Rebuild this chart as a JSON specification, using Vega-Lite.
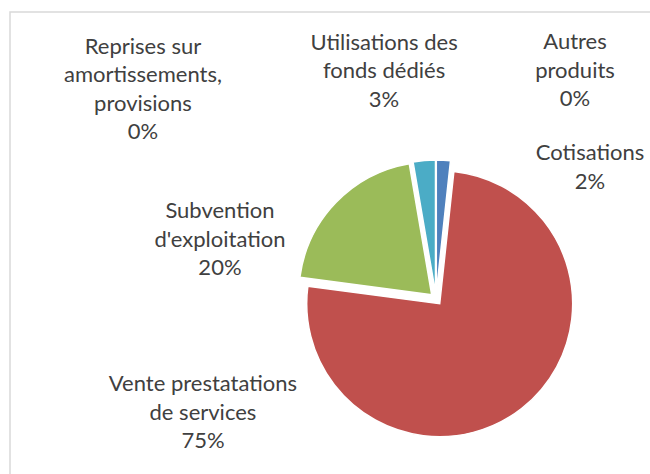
{
  "$schema": "https://vega.github.io/schema/vega-lite/v6.json",
  "autosize": "none",
  "width": 852,
  "height": 574,
  "padding": {"left": 10, "top": 12, "right": 0, "bottom": 0},
  "background": "white",
  "view": {"stroke": "#d9d9d9", "strokeWidth": 1.5},
  "config": {"view": {"stroke": "#d9d9d9", "strokeWidth": 1.5}},
  "data": {"values": [
    {"ordre": 1, "poste": "Cotisations", "pct": 1.7, "label": ["Cotisations", "2%"]},
    {"ordre": 2, "poste": "Vente prestatations de services", "pct": 75.4, "label": ["Vente prestatations", "de services", "75%"]},
    {"ordre": 3, "poste": "Subvention d'exploitation", "pct": 20.2, "label": ["Subvention", "d'exploitation", "20%"]},
    {"ordre": 4, "poste": "Reprises sur amortissements, provisions", "pct": 0, "label": ["Reprises sur", "amortissements,", "provisions", "0%"]},
    {"ordre": 5, "poste": "Utilisations des fonds dédiés", "pct": 2.7, "label": ["Utilisations des", "fonds dédiés", "3%"]},
    {"ordre": 6, "poste": "Autres produits", "pct": 0, "label": ["Autres", "produits", "0%"]}
  ]},
  "transform": [
    {"stack": "pct", "groupby": [], "sort": [{"field": "ordre", "order": "ascending"}], "as": ["v0", "v1"]},
    {"calculate": "(datum.v0 + datum.v1) / 2", "as": "vmid"}
  ],
  "encoding": {
    "color": {
      "field": "poste", "type": "nominal", "legend": null,
      "scale": {
        "domain": ["Cotisations", "Vente prestatations de services", "Subvention d'exploitation", "Reprises sur amortissements, provisions", "Utilisations des fonds dédiés", "Autres produits"],
        "range": ["#4F81BD", "#C0504D", "#9BBB59", "#8064A2", "#4BACC6", "#F79646"]
      }
    }
  },
  "layer": [
    {
      "transform": [{"filter": "datum.ordre == 1"}],
      "mark": {"type": "arc", "outerRadius": 133, "stroke": "white", "strokeWidth": 1.5, "xOffset": 0.3, "yOffset": -6},
      "encoding": {
        "theta": {"field": "v0", "type": "quantitative", "scale": {"domain": [0, 100]}},
        "theta2": {"field": "v1"}
      }
    },
    {
      "transform": [{"filter": "datum.ordre == 2"}],
      "mark": {"type": "arc", "outerRadius": 133, "stroke": "white", "strokeWidth": 1.5, "xOffset": 3.7, "yOffset": 4.7},
      "encoding": {
        "theta": {"field": "v0", "type": "quantitative", "scale": {"domain": [0, 100]}},
        "theta2": {"field": "v1"}
      }
    },
    {
      "transform": [{"filter": "datum.ordre == 3"}],
      "mark": {"type": "arc", "outerRadius": 133, "stroke": "white", "strokeWidth": 1.5, "xOffset": -4.3, "yOffset": -4.2},
      "encoding": {
        "theta": {"field": "v0", "type": "quantitative", "scale": {"domain": [0, 100]}},
        "theta2": {"field": "v1"}
      }
    },
    {
      "transform": [{"filter": "datum.ordre == 5"}],
      "mark": {"type": "arc", "outerRadius": 133, "stroke": "white", "strokeWidth": 1.5, "xOffset": -0.5, "yOffset": -6},
      "encoding": {
        "theta": {"field": "v0", "type": "quantitative", "scale": {"domain": [0, 100]}},
        "theta2": {"field": "v1"}
      }
    },
    {
      "transform": [{"filter": "datum.ordre == 1"}],
      "mark": {"type": "text", "radius": 160, "font": "Lato", "fontSize": 22, "lineHeight": 28.5, "align": "center", "baseline": "middle", "dx": 145.5, "dy": 13.8},
      "encoding": {"theta": {"field": "vmid", "type": "quantitative", "scale": {"domain": [0, 100]}}, "text": {"field": "label"}, "color": {"value": "#404040"}}
    },
    {
      "transform": [{"filter": "datum.ordre == 2"}],
      "mark": {"type": "text", "radius": 160, "font": "Lato", "fontSize": 22, "lineHeight": 28.5, "align": "center", "baseline": "middle", "dx": -331.9, "dy": -40.8},
      "encoding": {"theta": {"field": "vmid", "type": "quantitative", "scale": {"domain": [0, 100]}}, "text": {"field": "label"}, "color": {"value": "#404040"}}
    },
    {
      "transform": [{"filter": "datum.ordre == 3"}],
      "mark": {"type": "text", "radius": 160, "font": "Lato", "fontSize": 22, "lineHeight": 28.5, "align": "center", "baseline": "middle", "dx": -100.8, "dy": 23},
      "encoding": {"theta": {"field": "vmid", "type": "quantitative", "scale": {"domain": [0, 100]}}, "text": {"field": "label"}, "color": {"value": "#404040"}}
    },
    {
      "transform": [{"filter": "datum.ordre == 4"}],
      "mark": {"type": "text", "radius": 160, "font": "Lato", "fontSize": 22, "lineHeight": 28.5, "align": "center", "baseline": "middle", "dx": -266, "dy": -94.3},
      "encoding": {"theta": {"field": "vmid", "type": "quantitative", "scale": {"domain": [0, 100]}}, "text": {"field": "label"}, "color": {"value": "#404040"}}
    },
    {
      "transform": [{"filter": "datum.ordre == 5"}],
      "mark": {"type": "text", "radius": 160, "font": "Lato", "fontSize": 22, "lineHeight": 28.5, "align": "center", "baseline": "middle", "dx": -38.4, "dy": -96.6},
      "encoding": {"theta": {"field": "vmid", "type": "quantitative", "scale": {"domain": [0, 100]}}, "text": {"field": "label"}, "color": {"value": "#404040"}}
    },
    {
      "transform": [{"filter": "datum.ordre == 6"}],
      "mark": {"type": "text", "radius": 160, "font": "Lato", "fontSize": 22, "lineHeight": 28.5, "align": "center", "baseline": "middle", "dx": 139, "dy": -97},
      "encoding": {"theta": {"field": "vmid", "type": "quantitative", "scale": {"domain": [0, 100]}}, "text": {"field": "label"}, "color": {"value": "#404040"}}
    }
  ]
}
